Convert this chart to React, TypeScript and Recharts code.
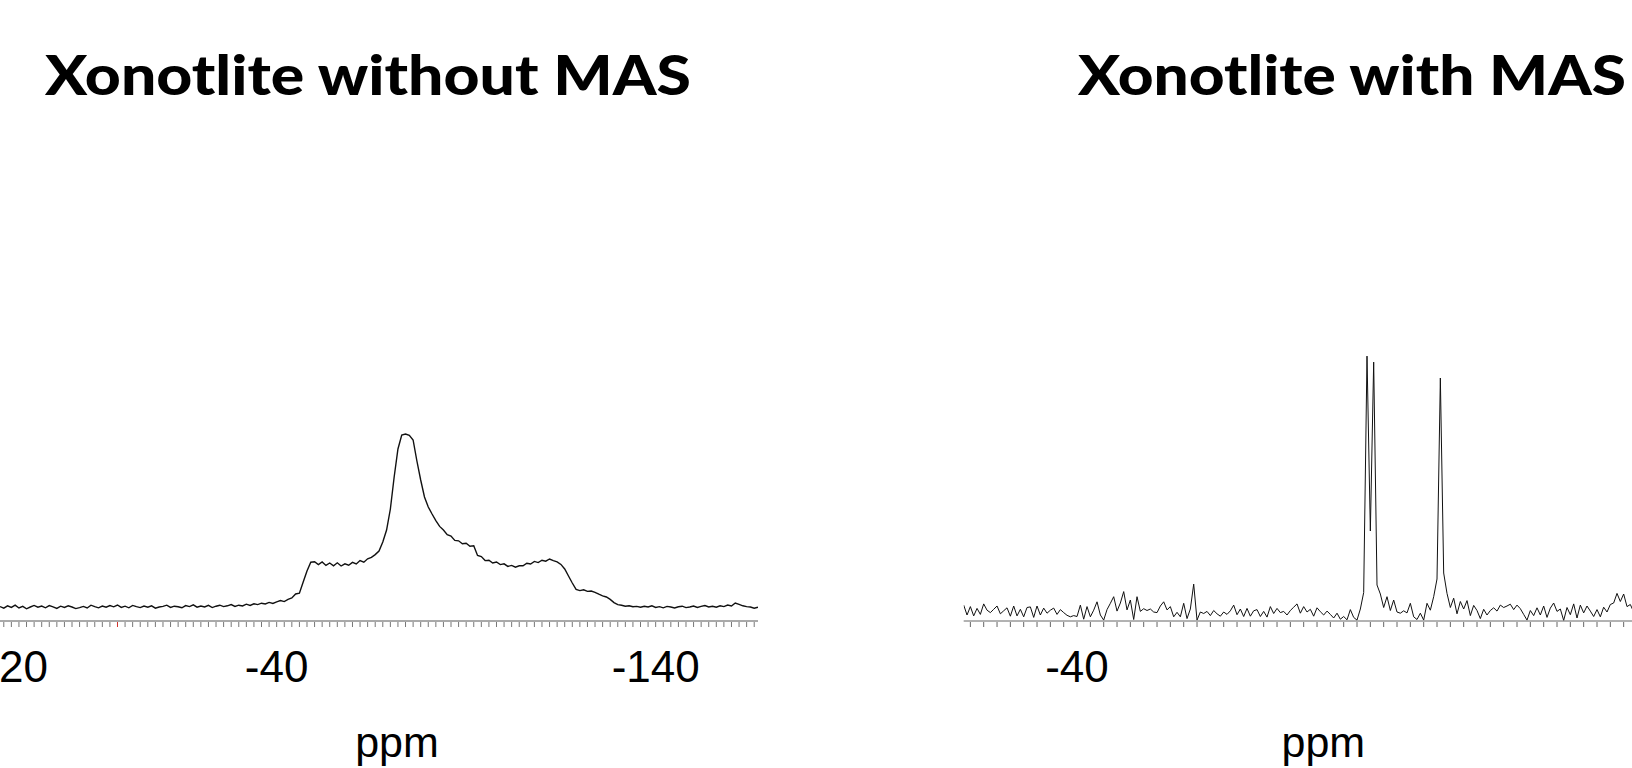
import React from 'react';
import { LineChart, Line, XAxis, YAxis, Label } from 'recharts';

// ---------- text ----------
const TITLE_LEFT = 'Xonotlite without MAS';
const TITLE_RIGHT = 'Xonotlite with MAS';
const AXIS_TITLE = 'ppm';

// ---------- left spectrum (static, no MAS): ppm 33 .. -167, step 1 ----------
const LEFT_START_PPM = 33;
const LEFT_STEP_PPM = -1;
const leftIntensity = [
  // 33 .. -34
  7.2, 6.4, 7.6, 6.8, 7.9, 6.5, 7.3, 6.1, 7.0, 7.8,
  6.9, 7.5, 6.6, 7.7, 7.1, 6.3, 7.4, 6.8, 7.6, 7.0,
  6.2, 6.7, 7.3, 6.5, 7.9, 7.2, 6.6, 7.5, 6.9, 7.7,
  7.1, 8.0, 6.8, 7.4, 6.6, 7.8, 7.2, 6.7, 7.5, 6.9,
  7.6, 6.4, 7.0, 7.3, 7.9, 6.8, 7.4, 7.1, 6.6, 7.7,
  7.2, 8.1, 6.9, 7.5, 7.0, 7.8, 6.7, 7.4, 7.9, 7.2,
  7.6, 8.2, 7.3, 7.9, 7.5, 8.4, 7.8, 8.6,
  // -35 .. -164
  8.2, 8.9, 8.5, 9.3, 8.8, 9.6, 10.2, 9.7, 10.8, 11.5,
  13.5, 13.9, 19.5, 25.0, 29.4, 29.6, 28.2, 29.5, 27.8, 29.0,
  27.6, 29.1, 27.5, 28.6, 27.9, 29.3, 28.5, 30.2, 29.4, 31.1,
  31.8, 33.2, 35.0, 39.5, 45.5, 56.0, 72.0, 86.0, 93.0, 93.5,
  92.8, 90.5, 80.0, 70.5, 62.0, 57.0, 53.5, 50.2, 47.3, 45.5,
  43.2, 42.5, 40.3, 40.1, 38.6, 38.9, 37.4, 37.6, 32.8, 32.2,
  30.2, 30.4, 29.0, 29.5, 28.2, 28.6, 27.3, 27.8, 26.9, 27.6,
  27.6, 28.9, 28.5, 29.8, 29.2, 30.4, 29.9, 31.0, 30.2, 29.6,
  28.3, 26.0, 22.5, 19.0, 15.8, 15.2, 15.6, 14.8, 15.0, 14.3,
  13.4, 12.6, 12.0, 10.8, 9.2, 8.2, 7.9, 7.4, 7.6, 7.1,
  7.3, 6.9, 7.4, 7.0, 7.6, 6.8, 7.2, 6.6, 7.3, 7.0,
  6.5, 7.1, 7.4, 6.7, 7.0, 7.5, 6.8, 7.3, 7.7, 7.0,
  7.4, 6.9, 7.6, 7.2, 8.0, 7.5, 9.0, 8.3, 7.6, 7.2,
  // -165 .. -167
  7.0, 6.4, 6.9,
];

// ---------- right spectrum (MAS): ppm -23 .. -133, step 0.5 ----------
const RIGHT_START_PPM = -23;
const RIGHT_STEP_PPM = -0.5;
const rightIntensity = [
  5.3, 2.0, 4.8, 1.7, 4.2, 2.2, 5.7, 3.6, 2.8, 3.9,
  5.0, 2.4, 3.4, 4.4, 1.6, 5.0, 1.7, 3.9, 1.4, 4.5,
  4.7, 1.2, 5.0, 2.0, 4.3, 2.6, 3.6, 4.3, 2.2, 3.8,
  2.8, 1.9, 1.4, 1.8, 1.5, 5.3, 0.6, 4.8, 1.4, 3.6,
  6.4, 2.0, 0.3, 3.8, 5.9, 8.1, 3.3, 6.0, 9.8, 3.7,
  7.0, 0.5, 8.1, 3.2, 4.1, 3.5, 4.0, 3.0, 2.8, 5.0,
  6.4, 3.7, 4.8, 1.4, 2.9, 1.4, 5.9, 0.8, 4.0, 12.3,
  0.3, 3.0, 2.5, 3.2, 1.8, 3.5, 2.4, 1.6, 3.0, 2.2,
  3.4, 5.3, 2.1, 4.0, 1.5, 4.2, 1.6, 3.4, 3.8, 1.5,
  3.2, 1.3, 4.8, 2.5, 4.2, 2.8, 3.2, 2.0, 3.5, 4.6,
  5.7, 2.6, 4.8, 3.0, 3.9, 1.6, 4.4, 3.1, 2.0, 3.3,
  2.2, 1.0, 2.6, 0.6, 1.5, 0.4, 3.8, 1.2, 0.3, 4.0,
  9.5, 88.3, 30.0, 86.3, 12.0, 9.0, 4.5, 8.1, 3.5, 7.0,
  3.0, 2.6, 3.4, 2.7, 5.9, 1.4, 0.5, 2.6, 0.3, 5.9,
  3.6, 8.1, 14.0, 81.0, 16.0, 9.2, 4.5, 7.6, 2.4, 6.5,
  4.0, 6.8, 1.8, 5.2, 3.5, 0.8, 3.9, 2.0, 3.5, 4.4,
  3.3, 5.3, 4.5, 5.0, 5.6, 3.8, 5.3, 4.1, 2.2, 0.3,
  3.5, 1.8, 4.4, 2.0, 5.0, 1.2, 4.3, 6.0, 3.2, 4.0,
  0.2, 4.5, 2.1, 5.7, 1.0, 5.3, 2.7, 5.0, 3.3, 1.5,
  3.8, 1.4, 4.6, 3.0, 5.5, 6.0, 9.2, 6.5, 9.0, 4.8,
  5.5, 3.0, 4.2, 2.5, 4.8, 3.1, 2.6, 4.0, 3.4, 2.1,
  3.6, 2.2, 4.1, 3.0, 1.8, 3.9, 2.4, 3.2, 4.5, 2.8,
  3.0,
];

// ---------- axes ----------
const leftDomain: [number, number] = [-167, 33];
const rightDomain: [number, number] = [-133, -23];
const intensityDomain: [number, number] = [0, 100];
const MINOR_TICK_STEP = 2;
const leftLabelValues = [26.8, -40, -140];
const leftLabelTexts = ['20', '-40', '-140'];
const rightLabelValues = [-40];
const rightLabelTexts = ['-40'];
const leftRedTicks = [2];

const leftData = leftIntensity.map((v, i) => ({ ppm: LEFT_START_PPM + i * LEFT_STEP_PPM, v }));
const rightData = rightIntensity.map((v, i) => ({ ppm: RIGHT_START_PPM + i * RIGHT_STEP_PPM, v }));

function minorTicks(domain: [number, number]): number[] {
  const out: number[] = [];
  const lo = Math.ceil(domain[0] / MINOR_TICK_STEP) * MINOR_TICK_STEP;
  for (let t = lo; t <= domain[1]; t += MINOR_TICK_STEP) out.push(t);
  return out;
}

const leftMinor = minorTicks(leftDomain);
const rightMinor = minorTicks(rightDomain);
const leftTicks = Array.from(new Set([...leftMinor, ...leftLabelValues]));
const rightTicks = Array.from(new Set([...rightMinor, ...rightLabelValues]));

const TICK_FONT = '"Liberation Sans", Arial, Helvetica, sans-serif';
const TITLE_FONT = 'Lato, "Open Sans", "Noto Sans", sans-serif';

function makeTick(minor: number[], labelValues: number[], labelTexts: string[], redTicks: number[], tickColor: string) {
  return (props: any) => {
    const { x, y, payload } = props;
    const v = payload.value;
    const li = labelValues.indexOf(v);
    const isMinor = minor.indexOf(v) >= 0;
    const red = redTicks.indexOf(v) >= 0;
    return (
      <g>
        {isMinor && (
          <line x1={x} x2={x} y1={y + 1} y2={y + 6} stroke={red ? '#d0302a' : tickColor} strokeWidth={1} />
        )}
        {li >= 0 && (
          <text x={x} y={y + 61} textAnchor="middle" fontFamily={TICK_FONT} fontSize={44} fill="#000">
            {labelTexts[li]}
          </text>
        )}
      </g>
    );
  };
}

const leftTick = makeTick(leftMinor, leftLabelValues, leftLabelTexts, leftRedTicks, '#777');
const rightTick = makeTick(rightMinor, rightLabelValues, rightLabelTexts, [], '#666');

function ppmLabel(dx: number) {
  return (props: any) => {
    const vb = props.viewBox || {};
    return (
      <text
        x={vb.x + vb.width / 2 + dx}
        y={757}
        textAnchor="middle"
        fontFamily={TICK_FONT}
        fontSize={43}
        fill="#000"
      >
        {AXIS_TITLE}
      </text>
    );
  };
}

export default function App() {
  return (
    <div
      style={{
        position: 'absolute',
        left: 0,
        top: 0,
        width: 1632,
        height: 768,
        overflow: 'hidden',
        background: '#fff',
      }}
    >
      <div style={{ position: 'absolute', left: 0, top: 0 }}>
        <LineChart width={770} height={768} data={leftData} margin={{ top: 421, right: 12, bottom: 0, left: 0 }}>
          <XAxis
            dataKey="ppm"
            type="number"
            domain={leftDomain}
            reversed
            allowDataOverflow
            ticks={leftTicks}
            interval={0}
            tick={leftTick}
            tickLine={false}
            tickSize={0}
            tickMargin={0}
            height={147}
            axisLine={{ stroke: '#555', strokeWidth: 1 }}
          >
            <Label content={ppmLabel(18)} />
          </XAxis>
          <YAxis hide domain={intensityDomain} type="number" />
          <Line
            type="linear"
            dataKey="v"
            stroke="#111"
            strokeWidth={1.4}
            dot={false}
            isAnimationActive={false}
          />
        </LineChart>
      </div>
      <div style={{ position: 'absolute', left: 900, top: 0 }}>
        <LineChart width={820} height={768} data={rightData} margin={{ top: 321, right: 23, bottom: 0, left: 63.7 }}>
          <XAxis
            dataKey="ppm"
            type="number"
            domain={rightDomain}
            reversed
            allowDataOverflow
            ticks={rightTicks}
            interval={0}
            tick={rightTick}
            tickLine={false}
            tickSize={0}
            tickMargin={0}
            height={147}
            axisLine={{ stroke: '#666', strokeWidth: 1 }}
          >
            <Label content={ppmLabel(-7)} />
          </XAxis>
          <YAxis hide domain={intensityDomain} type="number" />
          <Line
            type="linear"
            dataKey="v"
            stroke="#111"
            strokeWidth={1}
            dot={false}
            isAnimationActive={false}
          />
        </LineChart>
      </div>
      <svg
        width={1632}
        height={768}
        style={{ position: 'absolute', left: 0, top: 0, pointerEvents: 'none' }}
      >
        <text
          x={45}
          y={95}
          fontFamily={TITLE_FONT}
          fontWeight={900}
          fontSize={56}
          textLength={646}
          lengthAdjust="spacingAndGlyphs"
          fill="#000"
        >
          {TITLE_LEFT}
        </text>
        <text
          x={1078}
          y={95}
          fontFamily={TITLE_FONT}
          fontWeight={900}
          fontSize={56}
          textLength={548}
          lengthAdjust="spacingAndGlyphs"
          fill="#000"
        >
          {TITLE_RIGHT}
        </text>
      </svg>
    </div>
  );
}
